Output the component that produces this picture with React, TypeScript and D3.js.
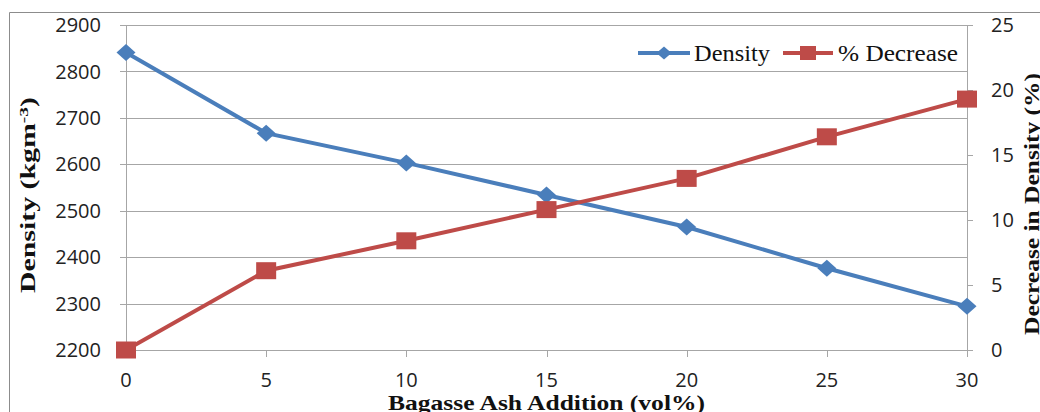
import React from "react";
import * as d3 from "d3";

const additions = [0, 5, 10, 15, 20, 25, 30];
const density = [2841, 2667, 2603, 2534, 2465, 2376, 2294];
const decrease = [0, 6.1, 8.4, 10.8, 13.2, 16.4, 19.3];
const leftTicks = [2200, 2300, 2400, 2500, 2600, 2700, 2800, 2900];
const rightTicks = [0, 5, 10, 15, 20, 25];

const BLUE = "#4A7EBB";
const RED = "#BE4B48";
const GRID = "#A6A6A6";
const TICKFONT = "'Open Sans', 'DejaVu Sans', sans-serif";
const SERIF = "'Liberation Serif', 'Times New Roman', serif";

export default function App() {
  const W = 1040, H = 412;
  const x = d3.scaleLinear().domain([0, 30]).range([126, 967]);
  const yL = d3.scaleLinear().domain([2200, 2900]).range([350, 25]);
  const yR = d3.scaleLinear().domain([0, 25]).range([350, 25]);
  const lineL = d3.line<number>().x((_, i) => x(additions[i])).y((d) => yL(d));
  const lineR = d3.line<number>().x((_, i) => x(additions[i])).y((d) => yR(d));

  const diamond = (cx: number, cy: number, w = 19, h = 17) =>
    `M${cx},${cy - h / 2}L${cx + w / 2},${cy}L${cx},${cy + h / 2}L${cx - w / 2},${cy}Z`;

  return (
    <svg width={W} height={H} style={{ position: "absolute", left: 0, top: 0, background: "#fff" }}>
      <rect x={0} y={0} width={W} height={H} fill="#fff" />
      {/* outer frame */}
      <line x1={9.5} y1={12.5} x2={W + 5} y2={12.5} stroke="#8c8c8c" strokeWidth={1} />
      <line x1={9.5} y1={12.5} x2={9.5} y2={H + 5} stroke="#8c8c8c" strokeWidth={1} />

      {/* gridlines */}
      {leftTicks.map((t) => (
        <line key={"g" + t} x1={x(0) - 6} x2={x(30)} y1={Math.round(yL(t)) + 0.5} y2={Math.round(yL(t)) + 0.5} stroke={GRID} strokeWidth={1} />
      ))}
      {rightTicks.map((t) => (
        <line key={"r" + t} x1={x(30)} x2={x(30) + 6} y1={Math.round(yR(t)) + 0.5} y2={Math.round(yR(t)) + 0.5} stroke={GRID} strokeWidth={1} />
      ))}
      {/* axes */}
      <line x1={Math.round(x(0)) + 0.5} x2={Math.round(x(0)) + 0.5} y1={yL(2900)} y2={yL(2200)} stroke={GRID} />
      <line x1={Math.round(x(30)) + 0.5} x2={Math.round(x(30)) + 0.5} y1={yR(25)} y2={yR(0)} stroke={GRID} />
      {additions.map((a) => (
        <line key={"xt" + a} x1={Math.round(x(a)) + 0.5} x2={Math.round(x(a)) + 0.5} y1={350} y2={357} stroke={GRID} />
      ))}

      {/* tick labels */}
      {leftTicks.map((t) => (
        <text key={"lt" + t} x={101} y={yL(t)} dy="0.36em" textAnchor="end" fontFamily={TICKFONT} fontSize={20} fill="#222">
          {t}
        </text>
      ))}
      {rightTicks.map((t) => (
        <text key={"rt" + t} x={991} y={yR(t)} dy="0.36em" textAnchor="start" fontFamily={TICKFONT} fontSize={20} fill="#222">
          {t}
        </text>
      ))}
      {additions.map((a) => (
        <text key={"xl" + a} x={x(a)} y={387} textAnchor="middle" fontFamily={TICKFONT} fontSize={20} fill="#222">
          {a}
        </text>
      ))}

      {/* series */}
      <path d={lineL(density) || ""} fill="none" stroke={BLUE} strokeWidth={4} />
      <path d={lineR(decrease) || ""} fill="none" stroke={RED} strokeWidth={4} />
      {density.map((d, i) => (
        <path key={"dm" + i} d={diamond(x(additions[i]), yL(d))} fill={BLUE} />
      ))}
      {decrease.map((d, i) => (
        <rect key={"sq" + i} x={x(additions[i]) - 10} y={yR(d) - 8.5} width={20} height={17} fill={RED} />
      ))}

      {/* legend */}
      <line x1={638} x2={690} y1={53} y2={53} stroke={BLUE} strokeWidth={4} />
      <path d={diamond(664, 53, 15, 13)} fill={BLUE} />
      <text x={694} y={61} fontFamily={SERIF} fontSize={23} fill="#111" textLength={76} lengthAdjust="spacingAndGlyphs">
        Density
      </text>
      <line x1={783} x2={833} y1={53} y2={53} stroke={RED} strokeWidth={4} />
      <rect x={800} y={46} width={16} height={14} fill={RED} />
      <text x={838} y={61} fontFamily={SERIF} fontSize={23} fill="#111" textLength={120} lengthAdjust="spacingAndGlyphs">
        % Decrease
      </text>

      {/* axis titles */}
      <text x={388} y={410} fontFamily={SERIF} fontWeight="bold" fontSize={22} fill="#111" textLength={317} lengthAdjust="spacingAndGlyphs">
        Bagasse Ash Addition  (vol%)
      </text>
      <text transform="translate(35,195) rotate(-90)" textAnchor="middle" fontFamily={SERIF} fontWeight="bold" fontSize={20} fill="#111" textLength={196} lengthAdjust="spacingAndGlyphs">
        Density (kgm<tspan dy="-7" fontSize={13}>-3</tspan><tspan dy="7">)</tspan>
      </text>
      <text transform="translate(1039,204) rotate(-90)" textAnchor="middle" fontFamily={SERIF} fontWeight="bold" fontSize={21} fill="#111" textLength={262} lengthAdjust="spacingAndGlyphs">
        Decrease in Density (%)
      </text>
    </svg>
  );
}
